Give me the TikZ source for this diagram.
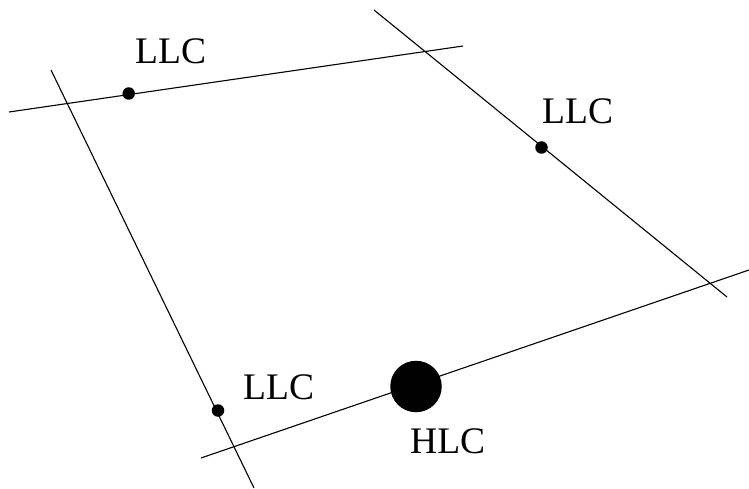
\documentclass[tikz,border=0pt]{standalone}
\usepackage{fontspec}
\setmainfont{Liberation Serif}
\begin{document}
\begin{tikzpicture}[x=1pt,y=-1pt,
  ln/.style={line width=1.1pt},
  sdot/.style={circle,fill=black,inner sep=0pt,minimum size=12.5pt},
  bdot/.style={circle,fill=black,inner sep=0pt,minimum size=51.5pt},
  lbl/.style={anchor=base west,inner sep=0pt,font=\fontsize{37.5}{40}\selectfont}]
\useasboundingbox (0,0) rectangle (749,489);
% line end points
\coordinate (t1) at (9,112);
\coordinate (t2) at (463,46);
\coordinate (l1) at (51,70);
\coordinate (l2) at (254,488);
\coordinate (r1) at (374,10);
\coordinate (r2) at (727,297);
\coordinate (b1) at (201,458);
\coordinate (b2) at (749,270);
\draw[ln] (t1) -- (t2);
\draw[ln] (l1) -- (l2);
\draw[ln] (r1) -- (r2);
\draw[ln] (b1) -- (b2);
\node[sdot] (d1) at (128.7,93.5) {};
\node[sdot] (d2) at (541.5,147.5) {};
\node[sdot] (d3) at (218,410.5) {};
\node[bdot] (d4) at (416,386.5) {};
\node[lbl] (L1) at (135,64) {LLC};
\node[lbl] (L2) at (542,124) {LLC};
\node[lbl] (L3) at (243,399) {LLC};
\node[lbl] (H1) at (410,453) {HLC};
\end{tikzpicture}
\end{document}
